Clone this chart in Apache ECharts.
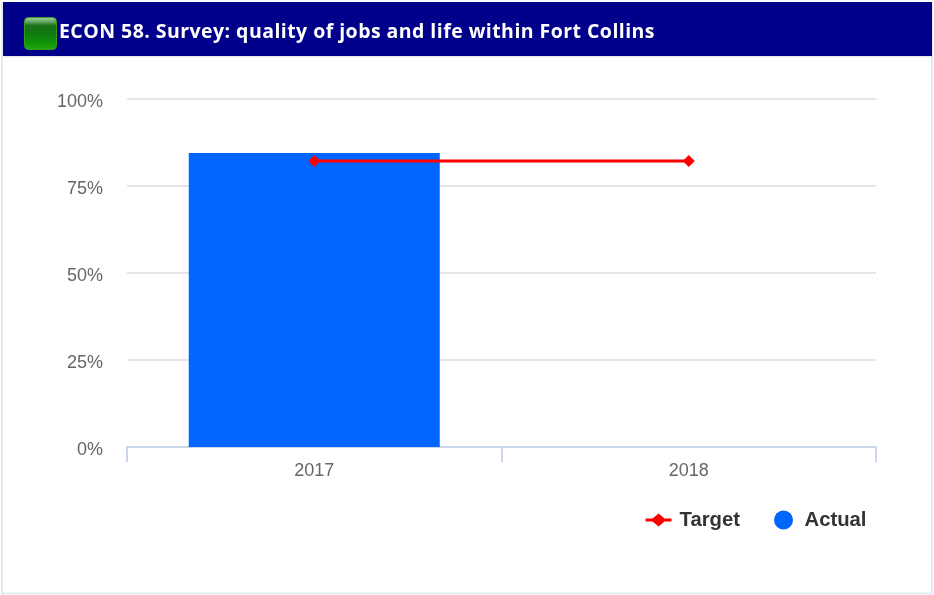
<!DOCTYPE html>
<html>
<head>
<meta charset="utf-8">
<title>ECON 58</title>
<style>
  html, body { margin: 0; padding: 0; background: #fff; }
  #chart { position: absolute; left: 0; top: 0; width: 934px; height: 595px; }
</style>
<script src="https://cdn.jsdelivr.net/npm/echarts@6/dist/echarts.min.js"></script>
</head>
<body>
<div id="chart"></div>
<script>
const titleText = 'ECON 58. Survey: quality of jobs and life within Fort Collins';
const years = ['2017', '2018'];
const actual = [84.5, null];
const target = [82.2, 82.2];
const percentTicks = { min: 0, max: 100, interval: 25 };

// Legend glyph for the target series: a line crossed by a small diamond
const targetIcon = 'path://M13 0h.01v.01zM13 19h.01v.01zM0 8H7L13 3L19 8H26V11H19L13 16L7 11H0Z';

const chart = echarts.init(document.getElementById('chart'), null, { renderer: 'canvas' });

// The heading sits on its own canvas layer so it can carry letter spacing
const TITLE_LAYER = 5;
chart.getZr().painter.getLayer(TITLE_LAYER).ctx.letterSpacing = '0.45px';

chart.setOption({
  animation: false,
  backgroundColor: '#ffffff',
  graphic: [
    // panel outline
    { type: 'rect', z: 0, shape: { x: 2, y: 3, width: 930, height: 590.5 },
      style: { fill: '#fff', stroke: '#e6eaf0', lineWidth: 2 } },
    // header band
    { type: 'rect', z: 1, shape: { x: 3, y: 2, width: 929, height: 54 }, style: { fill: '#00008b' } },
    { type: 'rect', z: 1, shape: { x: 3, y: 56, width: 929, height: 1.5 }, style: { fill: '#e6eaf0' } },
    // status lamp
    { type: 'rect', z: 2, shape: { x: 24.5, y: 17.5, width: 32, height: 32, r: 4 },
      style: {
        stroke: '#2f9e1f', lineWidth: 1,
        fill: new echarts.graphic.LinearGradient(0, 0, 0, 1, [
          { offset: 0, color: '#a8d2a0' },
          { offset: 0.12, color: '#74b070' },
          { offset: 0.26, color: '#1b711b' },
          { offset: 0.55, color: '#0e7c0c' },
          { offset: 0.85, color: '#119c05' },
          { offset: 1, color: '#2aa81a' }
        ])
      } }
  ],
  title: {
    text: titleText,
    zlevel: TITLE_LAYER,
    left: 59, top: 19, padding: 0,
    textStyle: { color: '#ffffff', fontFamily: 'Open Sans', fontWeight: 'bold', fontSize: 19.5, lineHeight: 26 }
  },
  legend: {
    data: [
      { name: 'Target', icon: targetIcon, itemStyle: { color: '#ff0000' } },
      { name: 'Actual', icon: 'circle' }
    ],
    right: 67.5, top: 510, padding: 0,
    itemWidth: 26, itemHeight: 19, itemGap: 34,
    textStyle: { color: '#333333', fontFamily: 'Liberation Sans', fontWeight: 'bold', fontSize: 20.3, padding: [0, 0, 0, 3] }
  },
  grid: { left: 127, right: 58, top: 99.2, bottom: 148, containLabel: false },
  xAxis: {
    type: 'category',
    data: years,
    axisLine: { lineStyle: { color: '#ccd6eb', width: 2 } },
    axisTick: { show: true, alignWithLabel: false, length: 15, lineStyle: { color: '#ccd6eb', width: 2 } },
    axisLabel: { color: '#666666', fontFamily: 'Liberation Sans', fontSize: 18, margin: 15 }
  },
  yAxis: {
    type: 'value',
    ...percentTicks,
    axisLine: { show: false },
    axisTick: { show: false },
    splitLine: { lineStyle: { color: '#e6e6e6', width: 2 } },
    axisLabel: {
      formatter: '{p|{value}%}',
      margin: 24,
      rich: { p: { color: '#666666', fontFamily: 'Liberation Sans', fontSize: 18, padding: [6, 0, 0, 0] } }
    }
  },
  series: [
    {
      name: 'Actual', type: 'bar', data: actual, barWidth: 251, z: 2,
      itemStyle: { color: '#0066ff' }
    },
    {
      name: 'Target', type: 'line', data: target, z: 3,
      symbol: 'diamond', symbolSize: 12, showAllSymbol: true,
      lineStyle: { color: '#ff0000', width: 3 },
      itemStyle: { color: '#ff0000' }
    }
  ]
});
</script>
</body>
</html>
